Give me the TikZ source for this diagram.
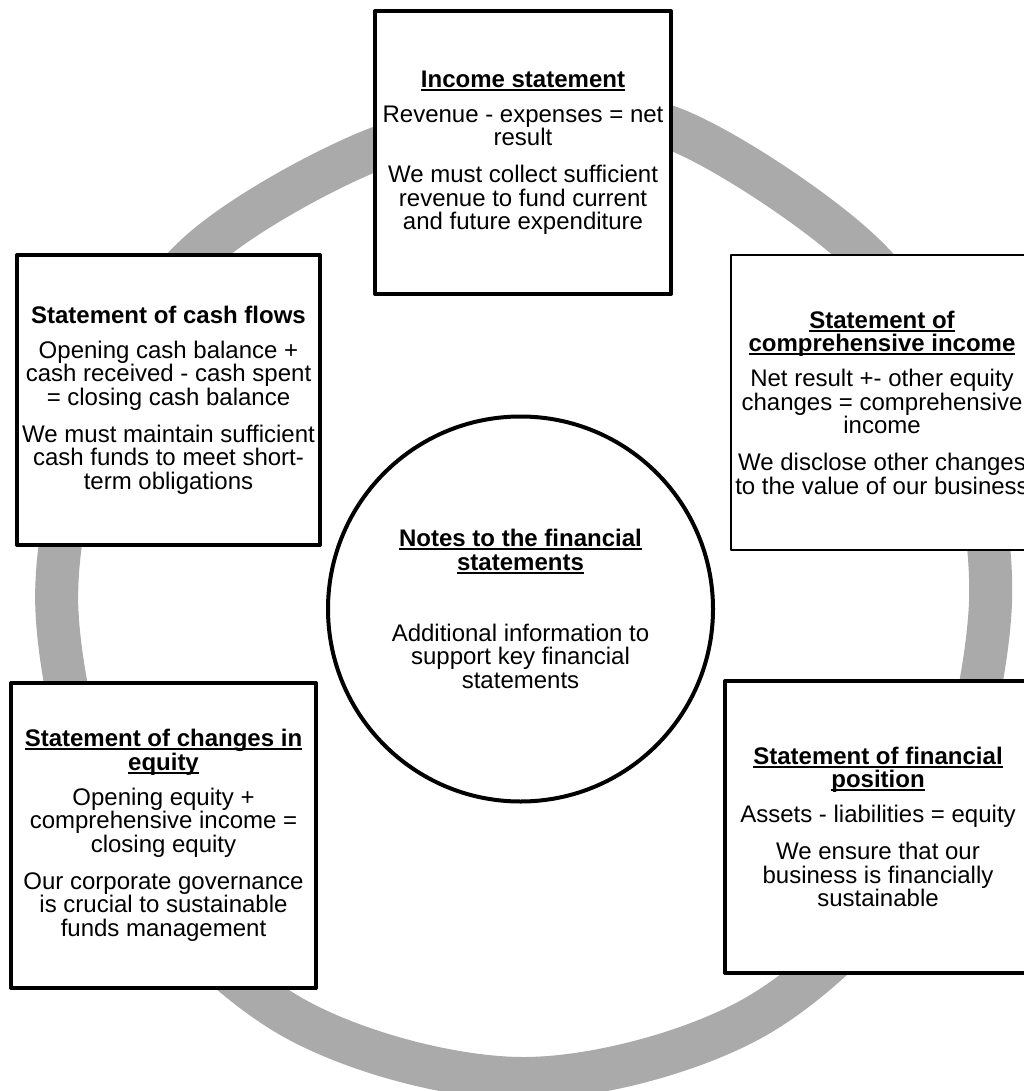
\documentclass[tikz,border=0pt]{standalone}
\usepackage{fontspec}
\setmainfont{Liberation Sans}
\definecolor{ringgray}{RGB}{170,170,170}
\newsavebox\ulbox
\newcommand\ttl[1]{\sbox\ulbox{\bfseries #1}\rlap{\rule[-3.5pt]{\wd\ulbox}{2pt}}\usebox\ulbox}
\tikzset{
  ring/.style={draw=ringgray, line width=43pt},
  stmt/.style={draw=black, fill=white, line width=4pt, rectangle, align=center,
    inner sep=0pt, line join=round, font=\fontsize{24}{23.5}\selectfont},
  notesc/.style={draw=black, fill=white, line width=4pt, circle, align=center,
    inner sep=0pt, font=\fontsize{24}{23.5}\selectfont},
}
\begin{document}
\begin{tikzpicture}[x=1pt,y=-1pt]
\useasboundingbox (0,0) rectangle (1024,1091);
\clip (0,0) rectangle (1024,1091);
\fill[white] (0,0) rectangle (1024,1091);
% gray ring
\draw[ring] plot[smooth cycle, tension=0.55] coordinates {
  (57,612) (97,400) (198.5,253) (373,150) (525,122) (673,128.5)
  (862.5,253) (957,400) (990,612) (927.5,845.3)
  (756.8,1016) (523.5,1078.5) (290.3,1016) (119.5,845.3)};
% statements
\node[stmt, minimum width=296pt, minimum height=283pt] (inc) at (523,152.5)
  {\ttl{Income statement}\\[11.5pt]
   Revenue - expenses = net\\ result\\[13.5pt]
   We must collect sufficient\\ revenue to fund current\\ and future expenditure};
\node[stmt, line width=2pt, minimum width=302pt, minimum height=295pt] (comp) at (882,402.5)
  {\ttl{Statement of}\\ \ttl{comprehensive income}\\[11.5pt]
   Net result +- other equity\\ changes = comprehensive\\ income\\[13.5pt]
   We disclose other changes\\ to the value of our business};
\node[stmt, minimum width=303pt, minimum height=290pt] (cash) at (168.5,400)
  {\textbf{Statement of cash flows}\\[11.5pt]
   Opening cash balance +\\ cash received - cash spent\\ = closing cash balance\\[13.5pt]
   We must maintain sufficient\\ cash funds to meet short-\\ term obligations};
\node[stmt, minimum width=305pt, minimum height=305pt] (equity) at (163.5,835.5)
  {\ttl{Statement of changes in}\\ \ttl{equity}\\[11.5pt]
   Opening equity +\\ comprehensive income =\\ closing equity\\[13.5pt]
   Our corporate governance\\ is crucial to sustainable\\ funds management};
\node[stmt, minimum width=306pt, minimum height=292pt] (fin) at (878,827)
  {\ttl{Statement of financial}\\ \ttl{position}\\[11.5pt]
   Assets - liabilities = equity\\[13.5pt]
   We ensure that our\\ business is financially\\ sustainable};
% centre circle
\node[notesc, minimum size=385pt] (notes) at (520.5,609)
  {\ttl{Notes to the financial}\\ \ttl{statements}\\[47.5pt]
   Additional information to\\ support key financial\\ statements};
\end{tikzpicture}
\end{document}
